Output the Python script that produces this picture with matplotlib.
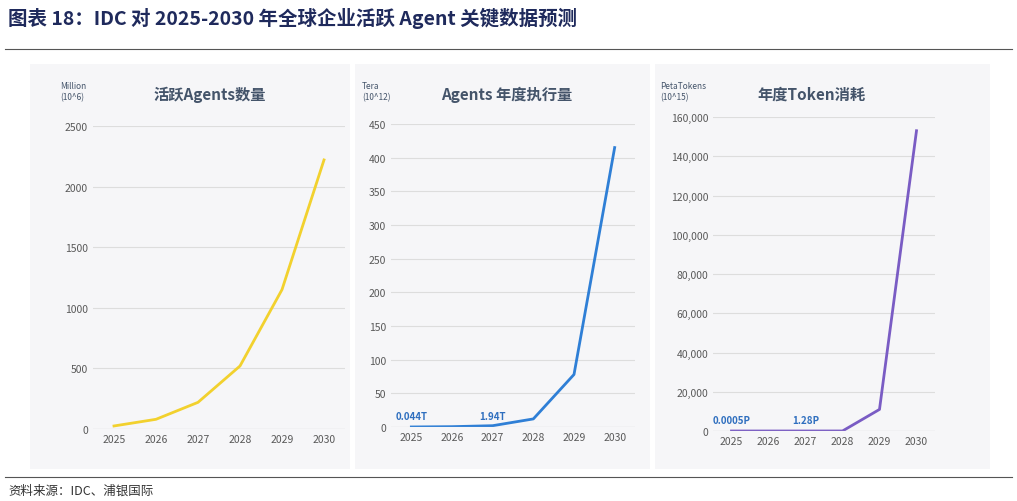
import matplotlib
matplotlib.use("Agg")
import matplotlib.pyplot as plt
from matplotlib.patches import Rectangle
from matplotlib.ticker import FuncFormatter

plt.rcParams['font.family'] = ['Noto Sans CJK SC', 'DejaVu Sans']

YEARS = [2025, 2026, 2027, 2028, 2029, 2030]
AGENTS = [25, 80, 220, 520, 1150, 2220]
EXEC = [0.044, 0.5, 1.94, 12, 78, 415]
TOKENS = [0.0005, 0.05, 1.28, 10, 11000, 153000]

NAVY = "#1f2a5c"
SUB = "#44546a"
TICK = "#595959"

W, H = 1017, 502
fig = plt.figure(figsize=(W / 100, H / 100), dpi=100, facecolor="white")

def fx(x): return x / W
def fy(y): return 1 - y / H

fig.text(fx(8), fy(18), "图表 18：IDC 对 2025-2030 年全球企业活跃 Agent 关键数据预测",
         fontsize=14, weight="bold", color=NAVY, va="center")
fig.add_artist(plt.Line2D([fx(5), fx(1012)], [fy(50), fy(50)], color="#555", lw=0.8))
fig.add_artist(plt.Line2D([fx(5), fx(1012)], [fy(478), fy(478)], color="#555", lw=0.8))
fig.text(fx(8), fy(491), "资料来源：IDC、浦银国际", fontsize=9, color="#333", va="center")

# panel backgrounds
for x0, x1 in [(30, 350), (355, 650), (655, 990)]:
    fig.patches.append(Rectangle((fx(x0), fy(470)), fx(x1 - x0), (470 - 65) / H,
                                 transform=fig.transFigure, fc="#f6f6f8", ec="none", zorder=-5))

panels = [
    dict(box=(93, 345, 127, 430), y=AGENTS, top=2500, step=500, color="#f2d12e",
         title="活跃Agents数量", unit="Million\n(10^6)", ux=60, tx=210, fmt="{:.0f}", ann=[]),
    dict(box=(391, 635, 125, 428), y=EXEC, top=450, step=50, color="#2f7fd6",
         title="Agents 年度执行量", unit="Tera\n(10^12)", ux=362, tx=507, fmt="{:.0f}",
         ann=[(0, "0.044T"), (2, "1.94T")]),
    dict(box=(713, 935, 118, 432), y=TOKENS, top=160000, step=20000, color="#7a5cc4",
         title="年度Token消耗", unit="PetaTokens\n(10^15)", ux=660, tx=812, fmt="{:,.0f}",
         ann=[(0, "0.0005P"), (2, "1.28P")]),
]

for p in panels:
    x0, x1, yt, yb = p["box"]
    ax = fig.add_axes([fx(x0), fy(yb), fx(x1 - x0), (yb - yt) / H])
    ax.set_zorder(2)
    ax.set_facecolor("none")
    ax.plot(YEARS, p["y"], color=p["color"], lw=2)
    ax.set_ylim(0, p["top"])
    ax.set_xlim(2024.5, 2030.5)
    ax.set_yticks(range(0, p["top"] + 1, p["step"]))
    ax.yaxis.set_major_formatter(FuncFormatter(lambda v, _, f=p["fmt"]: f.format(v)))
    ax.set_xticks(YEARS)
    ax.grid(axis="y", color="#dddddd", lw=0.8)
    ax.tick_params(length=0, labelsize=7.5, colors=TICK)
    for s in ax.spines.values():
        s.set_visible(False)
    ax.axhline(0, color="#cccccc", lw=0.8)
    for i, txt in p["ann"]:
        ax.annotate(txt, (YEARS[i], 0), xytext=(0, 6), textcoords="offset points",
                    ha="center", fontsize=7, color="#2f6fbf", weight="bold")
    fig.text(fx(p["ux"]), fy(92), p["unit"], fontsize=6, color=SUB, va="center", linespacing=1.3)
    fig.text(fx(p["tx"]), fy(95), p["title"], fontsize=11, weight="bold", color=SUB,
             ha="center", va="center")

fig.savefig("out.png", dpi=100, facecolor="white")
